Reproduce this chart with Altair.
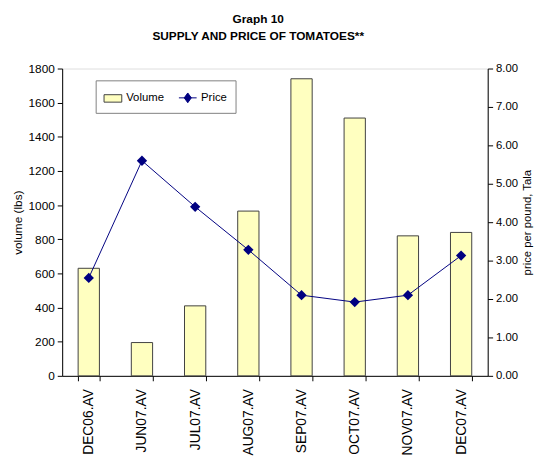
import altair as alt
import pandas as pd

months = ["DEC06.AV", "JUN07.AV", "JUL07.AV", "AUG07.AV", "SEP07.AV", "OCT07.AV", "NOV07.AV", "DEC07.AV"]
volume = [630, 195, 410, 965, 1740, 1510, 820, 840]
price = [2.55, 5.60, 4.40, 3.28, 2.10, 1.92, 2.10, 3.13]
series_names = ["Volume", "Price"]

FONT = "Liberation Sans"
BAR_FILL = "#FFFFC0"
NAVY = "#000080"

df = pd.DataFrame({"month": months, "volume": volume, "price": price,
                   "series": [series_names[0]] * len(months)})

x_enc = alt.X(
    "month:N", sort=months, title=None,
    scale=alt.Scale(paddingInner=0.6, paddingOuter=0.3),
    axis=alt.Axis(labelAngle=270, labelAlign="right", labelBaseline="middle",
                  labelFont=FONT, labelFontSize=14, labelColor="black",
                  tickBand="extent", tickColor="black", tickSize=5,
                  domainColor="black", labelPadding=8),
)

vol_axis = alt.Axis(values=list(range(0, 1801, 200)), format="d", title="volume (lbs)",
                    labelFont=FONT, labelFontSize=12, labelColor="black",
                    titleFont=FONT, titleFontSize=12, titleFontWeight="normal",
                    titleColor="black", titlePadding=4,
                    tickColor="black", tickSize=5, domainColor="black",
                    grid=False, labelPadding=3)

y_vol = alt.Y("volume:Q", scale=alt.Scale(domain=[0, 1800], nice=False), axis=vol_axis)

y_price = alt.Y(
    "price:Q", scale=alt.Scale(domain=[0, 8], nice=False),
    axis=alt.Axis(orient="right", values=list(range(0, 9)), format=".2f",
                  title="price per pound, Tala", titleAngle=270,
                  labelFont=FONT, labelFontSize=11.5, labelColor="black",
                  titleFont=FONT, titleFontSize=11.5, titleFontWeight="normal",
                  titleColor="black", titlePadding=15,
                  tickColor="black", tickSize=5, domainColor="black",
                  grid=False, labelPadding=3),
)

legend = alt.Legend(
    title=None, orient="none", legendX=34, legendY=12, direction="horizontal",
    labelFont=FONT, labelFontSize=11.5, labelColor="black",
    strokeColor="#808080", fillColor="white", padding=8, columnPadding=12,
    symbolSize=324, symbolStrokeWidth=1, symbolOpacity=1,
    symbolType={"expr": "datum.value == 'Price' ? 'M-1,0H1M0,-0.55L0.4,0L0,0.55L-0.4,0Z' : 'M-1,-0.42H1V0.42H-1Z'"},
    symbolStrokeColor={"expr": "datum.value == 'Price' ? '#000080' : '#404040'"},
)

bars_fill = alt.Chart(df).mark_bar(strokeWidth=0).encode(
    x=x_enc, y=y_vol,
    color=alt.Color("series:N", scale=alt.Scale(domain=series_names, range=[BAR_FILL, NAVY]),
                    legend=legend),
)
bars_outline = alt.Chart(df).mark_bar(fillOpacity=0, stroke="#404040", strokeWidth=1).encode(
    x=x_enc, y=y_vol,
)
line = alt.Chart(df).mark_line(color=NAVY, strokeWidth=1).encode(x=x_enc, y=y_price)
points = alt.Chart(df).mark_point(shape="diamond", filled=True, color=NAVY, opacity=1, size=110).encode(
    x=x_enc, y=y_price)

chart = alt.layer(
    alt.layer(bars_fill, bars_outline),
    alt.layer(line, points),
).resolve_scale(y="independent").properties(
    width=432, height=312,
    padding={"left": 55, "top": 58, "right": 47, "bottom": 83},
    autosize=alt.AutoSizeParams(type="none"),
    title=alt.Title(["Graph 10", "SUPPLY AND PRICE OF TOMATOES**"], font=FONT, fontSize=12,
                    fontWeight="bold", color="black", anchor="middle", dx=-17, offset=20,
                    lineHeight=17),
).configure_view(stroke="#a0a0a0").configure(background="white")

chart.save("out.html", embed_options={"renderer": "svg", "actions": False})
